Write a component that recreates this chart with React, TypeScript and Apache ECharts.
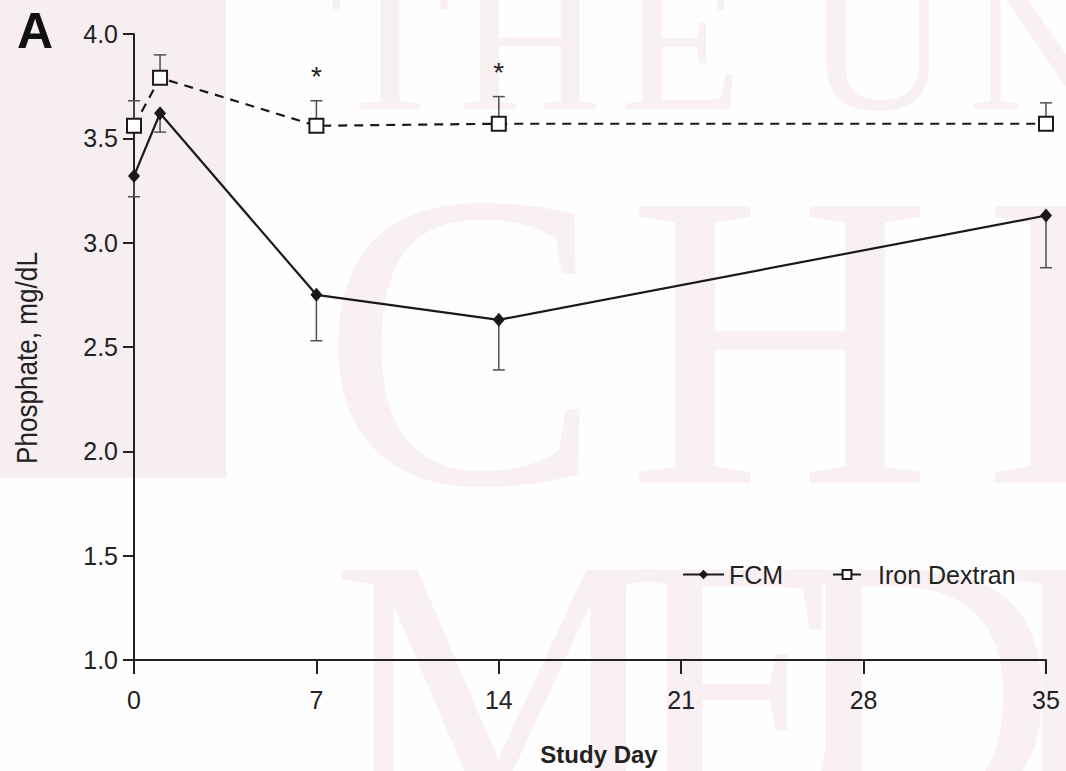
import React, { useEffect, useRef } from "react";
import * as echarts from "echarts";

// ---- data ----
const days = [0, 1, 7, 14, 35];
const fcmMean = [3.32, 3.62, 2.75, 2.63, 3.13];
const fcmLower = [3.22, 3.53, 2.53, 2.39, 2.88];
const idMean = [3.56, 3.79, 3.56, 3.57, 3.57];
const idUpper = [3.68, 3.9, 3.68, 3.7, 3.67];
const starDays = [7, 14];
const xTicks = [0, 7, 14, 21, 28, 35];
const yTicks = [1.0, 1.5, 2.0, 2.5, 3.0, 3.5, 4.0];

const SANS = "'Liberation Sans', Arial, Helvetica, sans-serif";
const WM = "#f8f0f2";

export default function App() {
  const ref = useRef<HTMLDivElement>(null);
  useEffect(() => {
    document.body.style.margin = "0";
    const chart = echarts.init(ref.current!, null, { renderer: "svg" });

    const fcmData = days.map((d, i) => [d, fcmMean[i]]);
    const idData = days.map((d, i) => [d, idMean[i]]);
    const fcmErr = days.map((d, i) => [d, fcmMean[i], fcmLower[i]]);
    const idErr = days.map((d, i) => [d, idMean[i], idUpper[i]]);
    const stars = starDays.map((d) => {
      const i = days.indexOf(d);
      return [d, idUpper[i]];
    });

    const errRender = (params: any, api: any) => {
      const x = api.value(0);
      const p1 = api.coord([x, api.value(1)]);
      const p2 = api.coord([x, api.value(2)]);
      const st = { stroke: "#505050", lineWidth: 1.5 };
      return {
        type: "group",
        children: [
          { type: "line", shape: { x1: p1[0], y1: p1[1], x2: p2[0], y2: p2[1] }, style: st },
          { type: "line", shape: { x1: p2[0] - 6, y1: p2[1], x2: p2[0] + 6, y2: p2[1] }, style: st },
        ],
      };
    };

    const wmText = (t: string, x: number, y: number, size: number) => ({
      type: "text",
      x,
      y,
      z: -10,
      silent: true,
      style: {
        text: t,
        fontFamily: "'Liberation Serif', 'DejaVu Serif', serif",
        fontSize: size,
        fill: WM,
        textAlign: "center",
        textVerticalAlign: "middle",
      },
    });

    chart.setOption({
      animation: false,
      backgroundColor: "#fefefe",
      graphic: [
        { type: "rect", z: -20, silent: true, shape: { x: 0, y: 0, width: 226, height: 478 }, style: { fill: "#f6eef0" } },
        wmText("T", 390, 41, 200),
        wmText("H", 530, 41, 200),
        wmText("E", 681, 41, 200),
        wmText("U", 878, 41, 200),
        wmText("N", 1040, 41, 200),
        wmText("C", 462, 340, 423),
        wmText("H", 780, 340, 423),
        wmText("I", 1050, 340, 423),
        wmText("M", 500, 690, 380),
        wmText("E", 740, 690, 380),
        wmText("D", 920, 690, 380),
        wmText("I", 1060, 690, 380),
        {
          type: "text",
          left: 17,
          top: 6,
          style: { text: "A", fontFamily: SANS, fontWeight: "bold", fontSize: 50, fill: "#111" },
        },
        {
          type: "text",
          x: 27,
          y: 358,
          rotation: Math.PI / 2,
          scaleX: 0.87,
          style: {
            text: "Phosphate, mg/dL",
            fontFamily: SANS,
            fontSize: 30,
            fill: "#222",
            textAlign: "center",
            textVerticalAlign: "middle",
          },
        },
      ],
      grid: { left: 134, right: 20, top: 34, bottom: 108, containLabel: false },
      legend: [
        {
          data: [{ name: "FCM" }],
          left: 682,
          top: 562,
          padding: 0,
          itemWidth: 41,
          itemHeight: 12,
          textStyle: { fontFamily: SANS, fontSize: 25, color: "#222" },
        },
        {
          data: [{ name: "Iron Dextran", lineStyle: { type: "solid" } }],
          left: 832,
          top: 562,
          padding: 0,
          itemWidth: 28,
          itemHeight: 11,
          textStyle: { fontFamily: SANS, fontSize: 25, color: "#222", padding: [0, 0, 0, 12] },
        },
      ],
      xAxis: {
        type: "value",
        min: 0,
        max: 35,
        interval: 7,
        name: "Study Day",
        nameLocation: "middle",
        nameGap: 82,
        nameTextStyle: { fontFamily: SANS, fontWeight: "bold", fontSize: 24, color: "#222", padding: [0, 0, 0, 18] },
        axisLine: { lineStyle: { color: "#222", width: 2 } },
        axisTick: { length: 14, lineStyle: { color: "#222", width: 2 } },
        axisLabel: {
          margin: 27,
          fontFamily: SANS,
          fontSize: 25,
          color: "#222",
          formatter: (v: number) => (xTicks.includes(v) ? String(v) : ""),
        },
        splitLine: { show: false },
      },
      yAxis: {
        type: "value",
        min: 1,
        max: 4,
        interval: 0.5,
        axisLine: { show: true, lineStyle: { color: "#222", width: 2 } },
        axisTick: { show: true, length: 11, lineStyle: { color: "#222", width: 2 } },
        axisLabel: {
          margin: 16,
          fontFamily: SANS,
          fontSize: 25,
          color: "#222",
          formatter: (v: number) => (yTicks.includes(v) ? v.toFixed(1) : ""),
        },
        splitLine: { show: false },
      },
      series: [
        {
          name: "FCM err",
          type: "custom",
          renderItem: errRender,
          data: fcmErr,
          encode: { x: 0, y: [1, 2] },
          z: 1,
          silent: true,
        },
        {
          name: "ID err",
          type: "custom",
          renderItem: errRender,
          data: idErr,
          encode: { x: 0, y: [1, 2] },
          z: 1,
          silent: true,
        },
        {
          name: "FCM",
          type: "line",
          data: fcmData,
          symbol: "diamond",
          symbolSize: [12, 14],
          lineStyle: { color: "#1a1a1a", width: 2.2 },
          itemStyle: { color: "#1a1a1a" },
          z: 3,
        },
        {
          name: "Iron Dextran",
          type: "line",
          data: idData,
          symbol: "rect",
          symbolSize: 14,
          lineStyle: { color: "#1a1a1a", width: 2.2, type: [9, 7] },
          itemStyle: { color: "#ffffff", borderColor: "#1a1a1a", borderWidth: 2 },
          z: 4,
        },
        {
          name: "stars",
          type: "custom",
          data: stars,
          encode: { x: 0, y: 1 },
          silent: true,
          renderItem: (params: any, api: any) => {
            const p = api.coord([api.value(0), api.value(1)]);
            return {
              type: "text",
              x: p[0],
              y: p[1] - 24,
              style: {
                text: "*",
                fontFamily: SANS,
                fontSize: 28,
                fill: "#222",
                textAlign: "center",
                textVerticalAlign: "middle",
              },
            };
          },
        },
      ],
    });
    return () => chart.dispose();
  }, []);
  return <div ref={ref} style={{ position: "fixed", left: 0, top: 0, width: 1066, height: 771 }} />;
}
